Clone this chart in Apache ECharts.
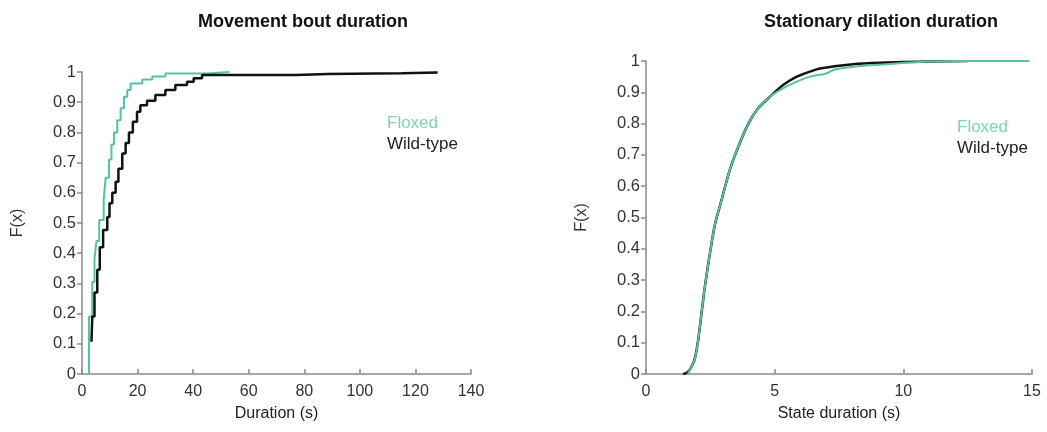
<!DOCTYPE html>
<html>
<head>
<meta charset="utf-8">
<script src="https://cdn.jsdelivr.net/npm/echarts@6/dist/echarts.min.js"></script>
<style>
    html, body { margin: 0; padding: 0; background: #fff; }
    #chart { width: 1047px; height: 432px; }
</style>
</head>
<body>
<div id="chart"></div>
<script>
    // Movement bout duration (left panel), step ECDF
    const moveFloxedX = [2.5, 2.5, 3.7, 4.5, 5.2, 6.2, 7.8, 8.5, 9.7, 10.6, 11.5, 12.7, 13.9, 15.1, 16.3, 17.5, 21.7, 25.3, 30, 45, 53]
    const moveFloxedF = [0, 0.19, 0.305, 0.38, 0.44, 0.51, 0.576, 0.65, 0.71, 0.76, 0.80, 0.84, 0.88, 0.918, 0.94, 0.962, 0.975, 0.985, 0.995, 1.0, 1.0]
    const moveWildX = [3.4, 3.7, 4.5, 5.5, 6.4, 7.6, 9.1, 9.9, 10.9, 12.1, 13.1, 14.5, 15.7, 16.9, 18.3, 19.8, 21.0, 23.4, 26.4, 30, 33.6, 37.8, 40.2, 43.2, 77, 88.5, 115, 128]
    const moveWildF = [0.107, 0.19, 0.27, 0.345, 0.42, 0.477, 0.52, 0.565, 0.60, 0.637, 0.68, 0.73, 0.765, 0.80, 0.835, 0.868, 0.89, 0.905, 0.924, 0.94, 0.957, 0.968, 0.979, 0.99, 0.993, 0.996, 0.998, 1.0]

    // Stationary dilation duration (right panel)
    const statWildX = [1.44, 1.6, 1.75, 1.9, 2.03, 2.16, 2.29, 2.49, 2.68, 2.94, 3.26, 3.59, 3.98, 4.36, 4.82, 5.34, 5.86, 6.37, 6.76, 8.05, 9.35, 10.65, 12.5]
    const statWildF = [0, 0.005, 0.02, 0.05, 0.11, 0.196, 0.28, 0.388, 0.478, 0.557, 0.653, 0.727, 0.80, 0.849, 0.886, 0.924, 0.95, 0.966, 0.976, 0.99, 0.995, 0.998, 1.0]
    const statFloxedX = [1.63, 1.75, 1.9, 2.03, 2.16, 2.29, 2.49, 2.68, 2.94, 3.26, 3.59, 3.98, 4.36, 4.82, 5.34, 5.86, 6.37, 6.76, 7.0, 7.3, 8.05, 9.35, 10.65, 12, 14.9]
    const statFloxedF = [0, 0.02, 0.048, 0.11, 0.196, 0.28, 0.388, 0.478, 0.557, 0.653, 0.727, 0.80, 0.849, 0.886, 0.913, 0.934, 0.95, 0.956, 0.96, 0.972, 0.982, 0.99, 0.997, 1.0, 1.0]

    const yTicks = ['0', '0.1', '0.2', '0.3', '0.4', '0.5', '0.6', '0.7', '0.8', '0.9', '1']

    const teal = '#55c39f'
    const tealText = '#7dd4b9'
    const fontFam = '"Liberation Sans", Arial, sans-serif'

    function zip(xs, ys){
        return xs.map((x, i) => [x, ys[i]])
    }

    function makeX(idx, max, step, name){
        return {
            type: 'value',
            gridIndex: idx,
            min: 0,
            max: max,
            interval: step,
            name: name,
            nameLocation: 'middle',
            nameGap: 32,
            nameTextStyle: { color: '#222', fontSize: 16, fontFamily: fontFam },
            axisLine: { show: true, lineStyle: { color: '#8a8a8a', width: 1.5 } },
            axisTick: { show: true, inside: true, length: 5, lineStyle: { color: '#8a8a8a', width: 1.5 } },
            axisLabel: { color: '#333', fontSize: 16, fontFamily: fontFam, margin: 10 },
            splitLine: { show: false }
        }
    }

    function makeY(idx){
        return {
            type: 'value',
            gridIndex: idx,
            min: 0,
            max: 1,
            interval: 0.1,
            name: 'F(x)',
            nameLocation: 'middle',
            nameGap: 56,
            nameTextStyle: { color: '#333', fontSize: 16, fontFamily: fontFam },
            axisLine: { show: true, lineStyle: { color: '#8a8a8a', width: 1.5 } },
            axisTick: { show: true, inside: false, length: 5, lineStyle: { color: '#8a8a8a', width: 1.5 } },
            axisLabel: {
                color: '#333', fontSize: 16.5, fontFamily: fontFam, margin: 6,
                formatter: v => yTicks[Math.round(v * 10)]
            },
            splitLine: { show: false }
        }
    }

    function makeLegend(left, top){
        return {
            orient: 'vertical',
            left: left,
            top: top,
            itemWidth: 0,
            itemHeight: 0,
            itemGap: 4,
            selectedMode: false,
            textStyle: { fontSize: 17, fontFamily: fontFam },
            data: [
                { name: 'Floxed', icon: 'rect', textStyle: { color: tealText } },
                { name: 'Wild-type', icon: 'rect', textStyle: { color: '#222' } }
            ]
        }
    }

    let chart = echarts.init(document.getElementById('chart'))

    const option = {
        animation: false,
        backgroundColor: '#fff',
        title: [
            {
                text: 'Movement bout duration', left: 298, top: 8, textAlign: 'center',
                textStyle: { fontSize: 18, fontWeight: 'bold', color: '#111', fontFamily: fontFam }
            },
            {
                text: 'Stationary dilation duration', left: 876, top: 8, textAlign: 'center',
                textStyle: { fontSize: 18, fontWeight: 'bold', color: '#111', fontFamily: fontFam }
            }
        ],
        legend: [makeLegend(377, 110), makeLegend(947, 114)],
        grid: [
            { left: 82, right: 576, top: 72, bottom: 58 },
            { left: 646, right: 15, top: 61, bottom: 58 }
        ],
        xAxis: [
            makeX(0, 140, 20, 'Duration (s)'),
            makeX(1, 15, 5, 'State duration (s)')
        ],
        yAxis: [makeY(0), makeY(1)],
        series: [
            {
                name: 'Floxed', type: 'line', xAxisIndex: 0, yAxisIndex: 0,
                step: 'end', showSymbol: false, z: 2,
                lineStyle: { color: teal, width: 2 }, itemStyle: { color: teal },
                data: zip(moveFloxedX, moveFloxedF)
            },
            {
                name: 'Wild-type', type: 'line', xAxisIndex: 0, yAxisIndex: 0,
                step: 'end', showSymbol: false, z: 3,
                lineStyle: { color: '#111', width: 2.5 }, itemStyle: { color: '#111' },
                data: zip(moveWildX, moveWildF)
            },
            {
                name: 'Wild-type', type: 'line', xAxisIndex: 1, yAxisIndex: 1,
                showSymbol: false, smooth: 0.3, z: 2,
                lineStyle: { color: '#111', width: 2.5 }, itemStyle: { color: '#111' },
                data: zip(statWildX, statWildF)
            },
            {
                name: 'Floxed', type: 'line', xAxisIndex: 1, yAxisIndex: 1,
                showSymbol: false, smooth: 0.3, z: 3,
                lineStyle: { color: teal, width: 2 }, itemStyle: { color: teal },
                data: zip(statFloxedX, statFloxedF)
            }
        ]
    }
    chart.setOption(option)
</script>
</body>
</html>
